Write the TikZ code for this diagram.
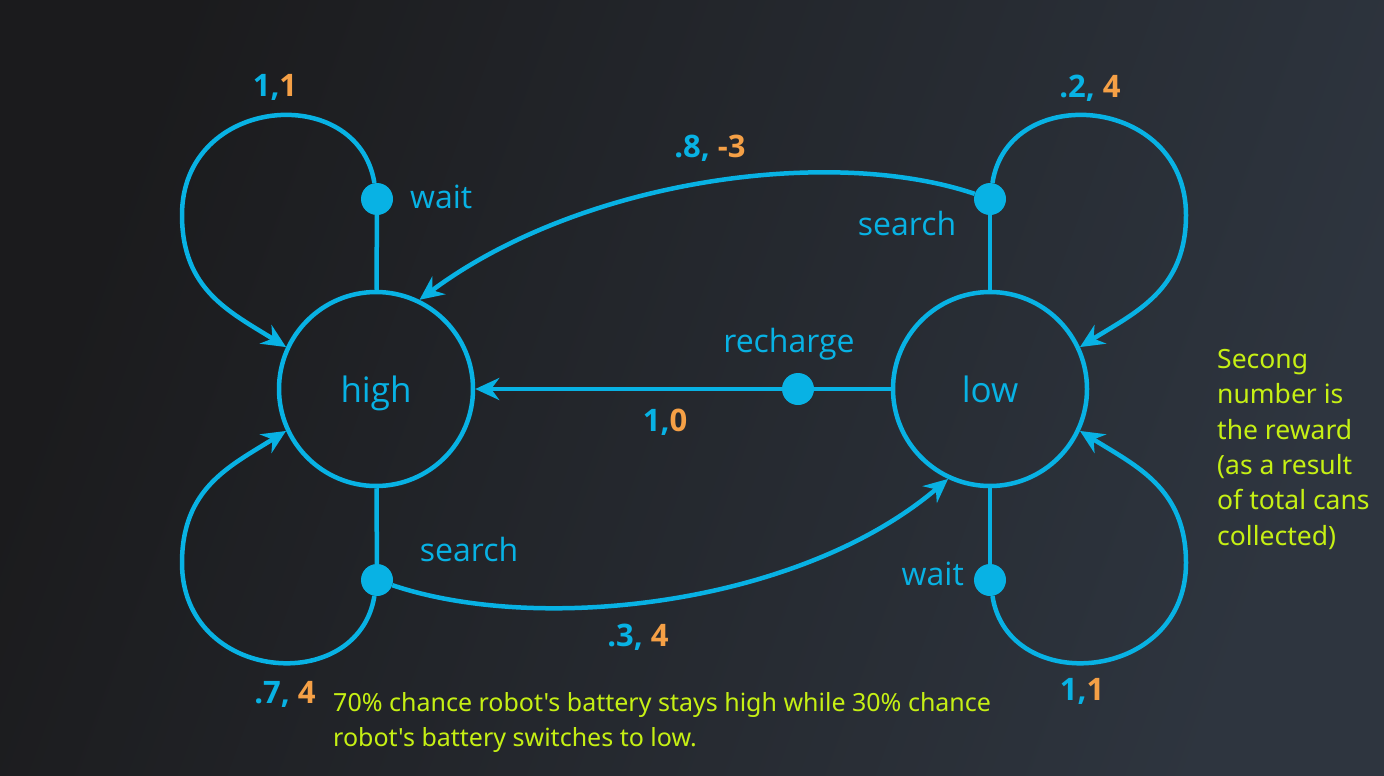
\documentclass[tikz,border=0pt]{standalone}
\usepackage{fontspec}
\setmainfont{Open Sans}
\newfontfamily\notefont{Noto Sans}
\usetikzlibrary{arrows.meta}
\definecolor{cblue}{RGB}{8,178,228}
\definecolor{corange}{RGB}{245,160,70}
\definecolor{cgreen}{RGB}{198,240,20}
\definecolor{bgA}{RGB}{27,27,29}
\definecolor{bgB}{RGB}{46,53,63}
\tikzset{
  state/.style={circle, draw=cblue, line width=4.5pt, minimum size=194pt, inner sep=0pt,
    text=cblue, font=\fontsize{35}{40}\selectfont, text height=26pt, text depth=0pt},
  dot/.style={circle, fill=cblue, minimum size=32pt, inner sep=0pt},
  conn/.style={draw=cblue, line width=4.5pt},
  arr/.style={conn, -{Stealth[length=24pt, width=22pt, inset=8pt]}},
  act/.style={text=cblue, font=\fontsize{32}{36}\selectfont, inner sep=0pt},
  num/.style={font=\bfseries\fontsize{31}{36}\selectfont, inner sep=0pt},
  note/.style={text=cgreen, font=\notefont\fontsize{25}{35}\selectfont, inner sep=0pt, align=left},
  noteR/.style={note, font=\notefont\fontsize{26.5}{35.4}\selectfont}
}
\newcommand{\bl}[1]{\textcolor{cblue}{#1}}
\newcommand{\og}[1]{\textcolor{corange}{#1}}
\begin{document}
\begin{tikzpicture}[x=1pt, y=-1pt]
\shade[left color=bgA, right color=bgB, shading angle=70] (0,0) rectangle (1384,776);
\useasboundingbox (0,0) rectangle (1384,776);

\node[state] (high) at (376,389) {high};
\node[state] (low) at (990,389) {low};
\node[dot] (hwait) at (377,199) {};
\node[dot] (hsearch) at (377,580) {};
\node[dot] (lsearch) at (990,199) {};
\node[dot] (lwait) at (990,580) {};
\node[dot] (lrech) at (798,389) {};

% stems
\draw[conn] (hwait) -- (high);
\draw[conn] (hsearch) -- (high);
\draw[conn] (lsearch) -- (low);
\draw[conn] (lwait) -- (low);
\draw[conn] (low) -- (lrech);

% recharge
\draw[arr] (lrech) -- (high);

% self loops
\draw[arr] (hwait) .. controls (358,81) and (182,95) .. (182,215)
  .. controls (182,290) and (230,312) .. (high.155);
\draw[arr] (hsearch) .. controls (358,697) and (182,683) .. (182,563)
  .. controls (182,488) and (230,466) .. (high.205);
\draw[arr] (lsearch) .. controls (1008,81) and (1186,95) .. (1186,215)
  .. controls (1186,290) and (1136,312) .. (low.25);
\draw[arr] (lwait) .. controls (1008,697) and (1186,683) .. (1186,563)
  .. controls (1186,488) and (1136,466) .. (low.-25);

% cross transitions
\draw[arr] (lsearch) .. controls (830,145) and (580,180) .. (high.64);
\draw[arr] (hsearch) .. controls (540,635) and (800,605) .. (low.245);

% action labels
\node[act, anchor=west] (lwaitH) at (410,197) {wait};
\node[act] (lsearchL) at (907,223) {search};
\node[act] (lrechL) at (789,344) {recharge};
\node[act] (hsearchL) at (469,549) {search};
\node[act, anchor=east] (lwaitL) at (964,574) {wait};

% numbers
\node[num] (n1) at (275,87) {\bl{1,}\og{1}};
\node[num] (n2) at (1090,88) {\bl{.2, }\og{4}};
\node[num] (n3) at (710,148) {\bl{.8, }\og{-3}};
\node[num] (n4) at (665,422) {\bl{1,}\og{0}};
\node[num] (n5) at (638,637) {\bl{.3, }\og{4}};
\node[num] (n6) at (285,694) {\bl{.7, }\og{4}};
\node[num] (n7) at (1082,691) {\bl{1,}\og{1}};

% notes
\node[noteR, anchor=north west] (noteR) at (1217,349) {Secong\\number is\\the reward\\(as a result\\of total cans\\collected)};
\node[note, anchor=north west] (noteB) at (333,692) {70\% chance robot's battery stays high while 30\% chance\\robot's battery switches to low.};
\end{tikzpicture}
\end{document}
